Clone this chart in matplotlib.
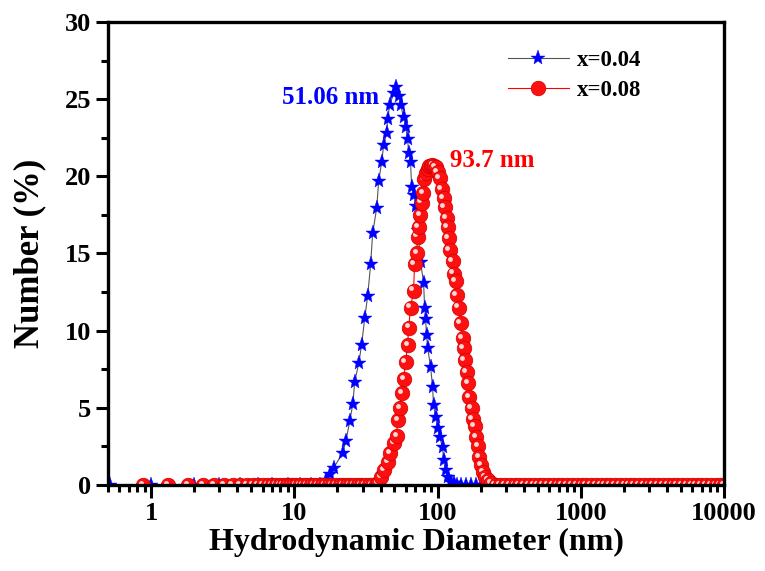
#imports
import matplotlib
matplotlib.use('Agg')
import matplotlib.pyplot as plt
import matplotlib.transforms as mtransforms

#data
# x=0.04 sample, blue stars
blue_d = [0.52, 1.0, 2.0, 3.0, 4.2, 5.6, 7.0, 9.0, 11.0, 13.0, 15.0, 16.6, 17.7, 18.8,
          21.8, 22.9, 24.4, 25.6, 26.4, 28.2, 29.5, 31.0, 32.5, 34.1, 35.2, 37.6, 38.8,
          40.7, 42.0, 44.1, 44.8, 46.3, 49.4, 51.06, 53.5, 55.2, 58.0, 59.8, 61.8, 62.8,
          64.8, 65.9, 68.0, 70.3, 73.0, 76.1, 79.9, 81.2, 82.5, 83.8, 85.2, 89.4, 92.3,
          93.7, 96.8, 100.0, 103.3, 108.4, 110.1, 113.7, 117.4, 123.2, 129.3, 135.6,
          144.6, 156.9, 170.2, 184.6, 200.0]
blue_n = [0.0, 0.0, 0.0, 0.0, 0.0, 0.0, 0.0, 0.0, 0.0, 0.0, 0.0, 0.3, 0.7, 1.1,
          2.1, 2.85, 4.15, 5.25, 6.7, 7.9, 9.1, 10.8, 12.25, 14.3, 16.3, 17.95, 19.7,
          20.9, 22.0, 22.8, 23.7, 24.6, 25.4, 25.8, 25.2, 24.6, 23.85, 23.2, 22.4, 21.5,
          20.9, 19.3, 18.8, 18.1, 16.5, 14.45, 13.1, 11.5, 10.75, 9.7, 8.9, 7.65, 6.35,
          5.2, 4.4, 3.7, 3.1, 2.45, 1.6, 0.97, 0.52, 0.2, 0.1, 0.0,
          0.0, 0.0, 0.0, 0.0, 0.0]

# x=0.08 sample, red spheres
red_d = [0.88, 1.31, 1.81, 2.30, 2.75, 3.22, 3.70, 4.17, 4.64, 5.11, 5.58, 6.05, 6.52,
         6.99, 7.46, 7.93, 8.40, 8.87, 9.34, 9.81, 10.3, 10.9, 11.6, 12.3, 13.0, 13.8,
         14.6, 15.5, 16.4, 17.4, 18.4, 19.5, 20.7, 21.9, 23.2, 24.6, 26.1, 27.7, 29.3,
         31.1, 33.0, 35.0, 37.0, 38.6,
         40.1, 42.0, 44.8, 46.3, 49.4, 51.8, 52.6, 54.4, 56.1, 58.0, 59.8, 61.8, 62.8,
         64.8, 68.0, 69.1, 71.4, 72.5, 73.7, 74.9, 77.3, 78.6, 79.9, 82.5, 85.2, 87.3,
         89.4, 91.5, 93.7, 96.8, 100.0, 103.3, 106.6, 110.1, 111.9, 115.6, 117.4, 119.3,
         121.2, 127.2, 129.3, 133.5, 135.6, 140.1, 144.6, 149.4, 151.8, 154.3, 159.3,
         164.4, 167.1, 172.6, 175.4, 181.1, 187.0, 193.1, 196.2, 202.6, 209.2, 216.0,
         226.7,
         235, 254, 274, 296, 320, 345, 373, 403, 435, 470, 507, 548, 592, 639, 690, 745,
         805, 869, 939, 1014, 1095, 1183, 1277, 1380, 1490, 1609, 1738, 1877, 2027,
         2189, 2365, 2554, 2758, 2979, 3217, 3474, 3752, 4052, 4377, 4727, 5105, 5513,
         5954, 6431, 6945, 7501, 8101, 8749, 9449, 10000]
red_n = [0.0, 0.0, 0.0, 0.0, 0.0, 0.0, 0.0, 0.0, 0.0, 0.0, 0.0, 0.0, 0.0,
         0.0, 0.0, 0.0, 0.0, 0.0, 0.0, 0.0, 0.0, 0.0, 0.0, 0.0, 0.0, 0.0,
         0.0, 0.0, 0.0, 0.0, 0.0, 0.0, 0.0, 0.0, 0.0, 0.0, 0.0, 0.0, 0.0,
         0.0, 0.0, 0.0, 0.0, 0.1,
         0.52, 0.97, 1.5, 2.07, 2.7, 3.2, 4.2, 5.0, 5.96, 6.87, 7.97, 9.07, 10.2,
         11.5, 12.6, 14.3, 15.0, 16.1, 16.7, 17.5, 18.3, 18.9, 19.8, 20.2, 20.5, 20.65,
         20.7, 20.72, 20.7, 20.6, 20.3, 19.9, 19.2, 18.6, 18.0, 17.3, 16.7, 16.0,
         15.2, 14.5, 13.7, 13.2, 12.3, 11.5, 10.5, 9.5, 8.9, 8.1, 7.3,
         6.6, 5.7, 5.0, 4.3, 3.8, 3.1, 2.5, 1.8, 1.3, 0.84, 0.52,
         0.3,
         0.1, 0.0, 0.0, 0.0, 0.0, 0.0, 0.0, 0.0, 0.0, 0.0, 0.0, 0.0, 0.0, 0.0, 0.0, 0.0,
         0.0, 0.0, 0.0, 0.0, 0.0, 0.0, 0.0, 0.0, 0.0, 0.0, 0.0, 0.0, 0.0,
         0.0, 0.0, 0.0, 0.0, 0.0, 0.0, 0.0, 0.0, 0.0, 0.0, 0.0, 0.0, 0.0,
         0.0, 0.0, 0.0, 0.0, 0.0, 0.0, 0.0, 0.0]

labels = ['x=0.04', 'x=0.08']
peak_text = ['51.06 nm', '93.7 nm']
x_ticks = [1, 10, 100, 1000, 10000]
x_ticklabels = ['1', '10', '100', '1000', '10000']
y_ticks = [0, 5, 10, 15, 20, 25, 30]

#style
plt.rcParams['font.family'] = ['Liberation Serif', 'DejaVu Serif']
plt.rcParams['font.weight'] = 'bold'

#plotting
fig = plt.figure(figsize=(7.65, 5.71), dpi=100)
ax = fig.add_axes([0.1412, 0.1506, 0.8052, 0.8109])

ax.plot(blue_d, blue_n, color='#555555', lw=0.8, marker='*', ms=11,
        mfc='#0000ff', mec='#0000ff', mew=0.3, label=labels[0])

ax.plot(red_d, red_n, color='red', lw=0.8, zorder=2.1)
# spheres: red ball + pale highlight, point by point so overlaps stack right
hl = mtransforms.offset_copy(ax.transData, fig=fig, x=-1.5, y=1.5, units='points')
for xx, yy in zip(red_d, red_n):
    ax.plot([xx], [yy], ls='none', marker='o', ms=10.5, mfc='#ff1010', mec='#cc0000',
            mew=0.5, zorder=2.2)
    ax.plot([xx], [yy], ls='none', marker='o', ms=3.5, mfc='#ffd8d8', mec='none',
            transform=hl, zorder=2.2)

# legend handle for the red series
ax.plot([], [], color='red', lw=0.8, marker='o', ms=10.5, mfc='#ff1010',
        mec='#cc0000', mew=0.5, label=labels[1])

ax.text(38.8, 25.1, peak_text[0], color='#0000ff', fontsize=18, fontweight='bold',
        ha='right', va='center')
ax.text(123, 21.0, peak_text[1], color='red', fontsize=18, fontweight='bold',
        ha='left', va='center')

ax.set_xscale('log')
ax.set_xlim(0.5, 10000)
ax.set_ylim(0, 30)
ax.set_xticks(x_ticks)
ax.set_xticklabels(x_ticklabels)
ax.set_yticks(y_ticks)
ax.set_yticks([2.5, 7.5, 12.5, 17.5, 22.5, 27.5], minor=True)

ax.tick_params(which='major', direction='out', length=9, width=2.2, labelsize=19,
               top=False, right=False, pad=3)
ax.tick_params(which='minor', direction='out', length=5, width=2.2,
               top=False, right=False)
for sp in ax.spines.values():
    sp.set_linewidth(2.4)

ax.set_xlabel('Hydrodynamic Diameter (nm)', fontsize=23, fontweight='bold', labelpad=2)
ax.set_ylabel('Number (%)', fontsize=25, fontweight='bold', labelpad=13)

h, l = ax.get_legend_handles_labels()
ax.legend(h, l, loc='upper left', bbox_to_anchor=(0.649, 0.94), frameon=False,
          borderpad=0, borderaxespad=0, handlelength=2.65, handletextpad=0.36,
          labelspacing=0.4, prop={'weight': 'bold', 'size': 16.5})

plt.savefig('out.png', dpi=100)
